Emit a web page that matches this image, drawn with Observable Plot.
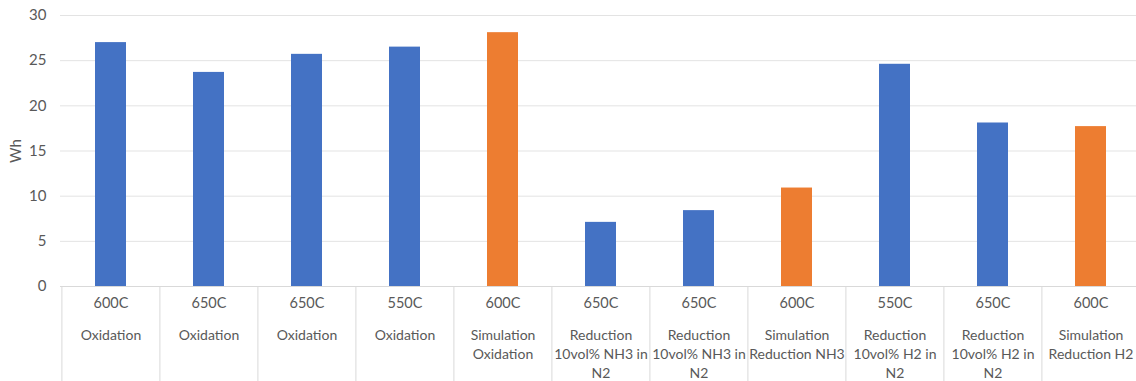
<!DOCTYPE html>
<html>
<head>
<meta charset="utf-8">
<script src="https://cdn.jsdelivr.net/npm/d3@7"></script>
<script src="https://cdn.jsdelivr.net/npm/@observablehq/plot@0.6"></script>
<style>
  html, body { margin: 0; padding: 0; background: #fff; }
</style>
</head>
<body>
<div id="chart"></div>
<script>
// Energy (Wh) per run: temperature, process, value and whether it is a measured run or a simulation
const temperatures = ["600C", "650C", "650C", "550C", "600C", "650C", "650C", "600C", "550C", "650C", "600C"];
const processes = [
  "Oxidation",
  "Oxidation",
  "Oxidation",
  "Oxidation",
  "Simulation\nOxidation",
  "Reduction\n10vol% NH3 in\nN2",
  "Reduction\n10vol% NH3 in\nN2",
  "Simulation\nReduction NH3",
  "Reduction\n10vol% H2 in\nN2",
  "Reduction\n10vol% H2 in\nN2",
  "Simulation\nReduction H2"
];
const energyWh = [27.0, 23.7, 25.7, 26.5, 28.1, 7.1, 8.4, 10.9, 24.6, 18.1, 17.7];
const sources = ["Experiment", "Experiment", "Experiment", "Experiment", "Simulation",
  "Experiment", "Experiment", "Simulation", "Experiment", "Experiment", "Simulation"];
const yTicks = [0, 5, 10, 15, 20, 25, 30];

const rows = energyWh.map((v, i) => ({
  key: i,
  temperature: temperatures[i],
  process: processes[i],
  wh: v,
  source: sources[i]
}));

const W = 1136, H = 381;
const ML = 60, MR = -4, MT = 15, MB = 95;
// one category slot on the band scale (outer padding is half the inner padding)
const step = (W - ML - MR) / rows.length;
const labelColor = "#595959";
const lineColor = "#d9d9d9";
const fs = 14.5;

const chart = Plot.plot({
  width: W,
  height: H,
  marginLeft: ML,
  marginRight: MR,
  marginTop: MT,
  marginBottom: MB,
  style: { fontFamily: "Lato, 'Open Sans', sans-serif", fontSize: fs + "px", color: labelColor, background: "#fff" },
  x: { domain: rows.map(d => d.key), paddingInner: 0.684, paddingOuter: 0.342, axis: null },
  y: { domain: [0, 30], label: "Wh" },
  color: { domain: ["Experiment", "Simulation"], range: ["#4472C4", "#ED7D31"] },
  marks: [
    Plot.gridY(yTicks.filter(t => t > 0), { stroke: "#e3e3e3", strokeOpacity: 1 }),
    Plot.axisY({
      ticks: yTicks,
      tickSize: 0,
      tickPadding: 14,
      fill: labelColor,
      fontSize: 15,
      label: "Wh",
      labelAnchor: "center",
      labelArrow: "none",
      labelOffset: 50
    }),
    Plot.barY(rows, { x: "key", y: "wh", fill: "source" }),
    // category axis baseline
    Plot.ruleY([0], { stroke: lineColor }),
    // category boundaries below the baseline
    Plot.ruleX(rows, { x: "key", dx: -step / 2, y1: 0, insetBottom: -MB, stroke: lineColor }),
    Plot.ruleX(rows.slice(-1), { x: "key", dx: step / 2, y1: 0, insetBottom: -MB, stroke: lineColor }),
    Plot.text(rows, {
      x: "key", text: "temperature", frameAnchor: "bottom", dy: 21,
      fill: labelColor, fontSize: fs
    }),
    Plot.text(rows, {
      x: "key", text: "process", frameAnchor: "bottom", dy: 40,
      lineAnchor: "top", lineHeight: 1.35, fill: labelColor, fontSize: 14
    })
  ]
});

document.getElementById("chart").appendChild(chart);
</script>
</body>
</html>
